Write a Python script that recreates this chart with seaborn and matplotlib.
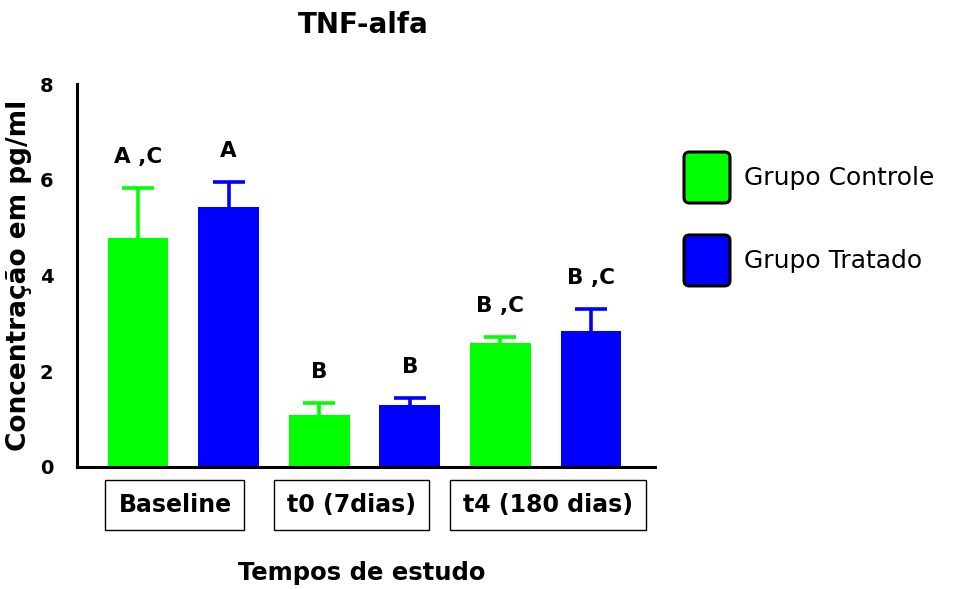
import numpy as np
import pandas as pd
import matplotlib
matplotlib.use("Agg")
import matplotlib.pyplot as plt
from matplotlib.patches import Patch, FancyBboxPatch
from matplotlib.legend_handler import HandlerPatch
from matplotlib import transforms
import seaborn as sns

# Study times and groups
tempos = ["Baseline", "t0 (7dias)", "t4 (180 dias)"]
grupos = ["Grupo Controle", "Grupo Tratado"]

# TNF-alfa concentration (pg/ml): mean and SEM per group at each time
controle_media = [4.79, 1.09, 2.58]
tratado_media = [5.43, 1.29, 2.85]
controle_epm = [1.03, 0.25, 0.14]
tratado_epm = [0.53, 0.15, 0.45]

# Statistical letters above each bar
controle_letras = ["A ,C", "B", "B ,C"]
tratado_letras = ["A", "B", "B ,C"]

cores = {"Grupo Controle": "#00FF00", "Grupo Tratado": "#0000FF"}

rows = []
for i, t in enumerate(tempos):
    rows.append(dict(tempo=t, grupo=grupos[0], media=controle_media[i],
                     epm=controle_epm[i], letra=controle_letras[i]))
    rows.append(dict(tempo=t, grupo=grupos[1], media=tratado_media[i],
                     epm=tratado_epm[i], letra=tratado_letras[i]))
df = pd.DataFrame(rows)
df["slot"] = df["tempo"] + " | " + df["grupo"]
ordem = list(df["slot"])

sns.set_style("white")
plt.rcParams["font.family"] = ["DejaVu Sans"]
plt.rcParams.update({
    "axes.edgecolor": "black",
    "text.color": "black",
    "axes.labelcolor": "black",
    "xtick.color": "black",
    "ytick.color": "black",
})

fig = plt.figure(figsize=(9.6, 5.89), dpi=100)
ax = fig.add_axes([77 / 960, 1 - 467 / 589, 578 / 960, 383 / 589])

sns.barplot(data=df, x="slot", y="media", hue="grupo", order=ordem,
            hue_order=grupos, palette=cores, dodge=False, width=0.67,
            errorbar=None, legend=False, ax=ax, saturation=1, linewidth=0,
            zorder=2)

# One-sided (upper) SEM bars
xs = np.arange(len(df))
for x, (_, r) in zip(xs, df.iterrows()):
    c = cores[r["grupo"]]
    eb = ax.errorbar(x, r["media"], yerr=[[0], [r["epm"]]], fmt="none",
                     ecolor=c, elinewidth=2.6, capsize=11.2, capthick=2.6,
                     zorder=1)
    caps = eb[1]
    caps[0].remove()  # drop the cap sitting on the bar top
    for cl in caps[1:]:
        cl.set_solid_capstyle("round")
    ax.text(x, r["media"] + r["epm"] + 0.52, r["letra"], ha="center",
            va="baseline", fontsize=15.5, fontweight="bold", color="black")

ax.set_xlim(-0.673, 5.706)
ax.set_ylim(0, 8)
ax.set_yticks([0, 2, 4, 6, 8])
ax.set_xticks(xs)
ax.set_xticklabels([""] * len(xs))
ax.tick_params(axis="both", direction="out", length=8.6, width=2.2,
               color="black")
ax.tick_params(axis="y", labelsize=14, pad=8.5)
for lab in ax.get_yticklabels():
    lab.set_fontweight("bold")
sns.despine(ax=ax)
for s in ("left", "bottom"):
    ax.spines[s].set_linewidth(2.2)

# Boxed labels for each study time
trans = transforms.blended_transform_factory(ax.transData, ax.transAxes)
centros = [0.408, 2.36, 4.52]
for cx, t in zip(centros, tempos):
    ax.text(cx, -0.0992, t, transform=trans, ha="center", va="center",
            fontsize=17, fontweight="bold", clip_on=False,
            bbox=dict(boxstyle="square,pad=0.55", facecolor="white",
                      edgecolor="black", linewidth=1.0))

ax.set_title("TNF-alfa", fontsize=20, fontweight="bold", x=0.4955,
             y=1.133, pad=0)
ax.set_xlabel("Tempos de estudo", fontsize=17.5, fontweight="bold")
ax.xaxis.label.set_va("baseline")
ax.xaxis.set_label_coords(0.4926, -0.295)
ax.set_ylabel("Concentração em pg/ml", fontsize=19, fontweight="bold")
ax.yaxis.label.set_va("baseline")
ax.yaxis.set_label_coords(-0.0882, 0.5)


class RoundBoxHandler(HandlerPatch):
    def create_artists(self, legend, orig_handle, xdescent, ydescent,
                       width, height, fontsize, trans):
        p = FancyBboxPatch((-xdescent, -ydescent), width, height,
                           boxstyle="round,pad=0,rounding_size=4",
                           facecolor=orig_handle.get_facecolor(),
                           edgecolor="black", linewidth=2.2,
                           transform=trans)
        return [p]


handles = [Patch(facecolor=cores[g], label=g) for g in grupos]
fig.legend(handles=handles, loc="upper left",
           bbox_to_anchor=(684 / 960, 1 - 152 / 589), frameon=False,
           fontsize=18, handlelength=1.84, handleheight=2.76,
           handletextpad=0.56, labelspacing=1.28, borderpad=0,
           borderaxespad=0,
           handler_map={Patch: RoundBoxHandler()})

fig.savefig("out.png", dpi=100)
